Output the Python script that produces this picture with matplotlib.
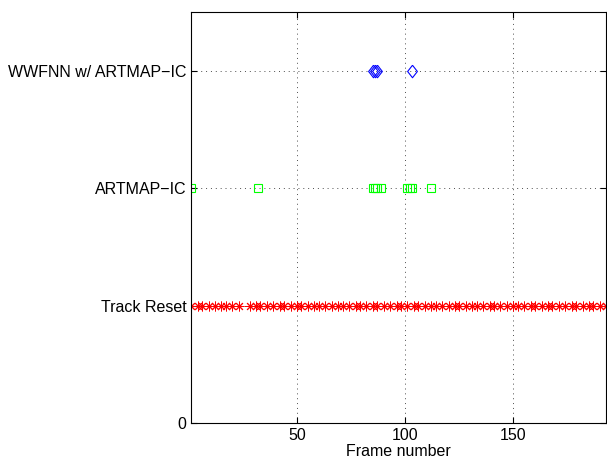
import numpy as np
import matplotlib
matplotlib.use("Agg")
import matplotlib.pyplot as plt

plt.rcParams['font.family'] = ['Liberation Sans', 'DejaVu Sans']

# frames where each event fired
wwfnn_frames = [85, 86, 87, 103]
artmap_frames = [1, 32, 85, 86, 87, 89, 101, 102, 103, 112]
reset_frames = [1, 4, 6, 9, 12, 15, 17, 20, 23,
                28, 31, 33, 36, 39, 42, 44, 47, 50, 52, 55, 58, 60, 63, 66,
                69, 71, 74, 77, 79, 82, 85, 87, 90, 93, 96, 98, 101, 104,
                106, 109, 112, 114, 117, 120, 123, 125, 128, 131, 133, 136,
                139, 141, 144, 147, 150, 152, 155, 158, 160, 163, 166, 168,
                171, 174, 177, 179, 182, 185, 187, 190, 193]

ylabels = ['0', 'Track Reset', 'ARTMAP\u2212IC', 'WWFNN w/ ARTMAP\u2212IC']
xticks = [50, 100, 150]

# matlab-ish diamond (a bit taller than wide)
diamond = [(0, 1), (0.78, 0), (0, -1), (-0.78, 0), (0, 1)]

fig = plt.figure(figsize=(6.07, 4.70), dpi=100)
ax = fig.add_axes([0.315, 0.1, 0.684, 0.874])

ax.plot(reset_frames, np.ones(len(reset_frames)), marker=(8, 2, 0), color='r',
        ms=7, mew=0.7, linestyle='none')
ax.plot(artmap_frames, 2 * np.ones(len(artmap_frames)), 's', color=(0, 1, 0),
        mfc='none', ms=6, mew=0.8, linestyle='none')
ax.plot(wwfnn_frames, 3 * np.ones(len(wwfnn_frames)), marker=diamond, color='b',
        mfc='none', ms=9, mew=0.8, linestyle='none')

ax.set_xlim(1, 193)
ax.set_ylim(0, 3.5)
ax.set_xticks(xticks)
ax.set_yticks([0, 1, 2, 3])
ax.set_yticklabels(ylabels)
ax.tick_params(direction='in', top=True, right=True, labelsize=11.5, length=4)
ax.grid(True, linestyle=(0, (1, 4)), color='0.3', linewidth=0.7)
for s in ax.spines.values():
    s.set_linewidth(0.8)
ax.set_xlabel('Frame number', fontsize=11.5, labelpad=1)

fig.savefig('out.png')
